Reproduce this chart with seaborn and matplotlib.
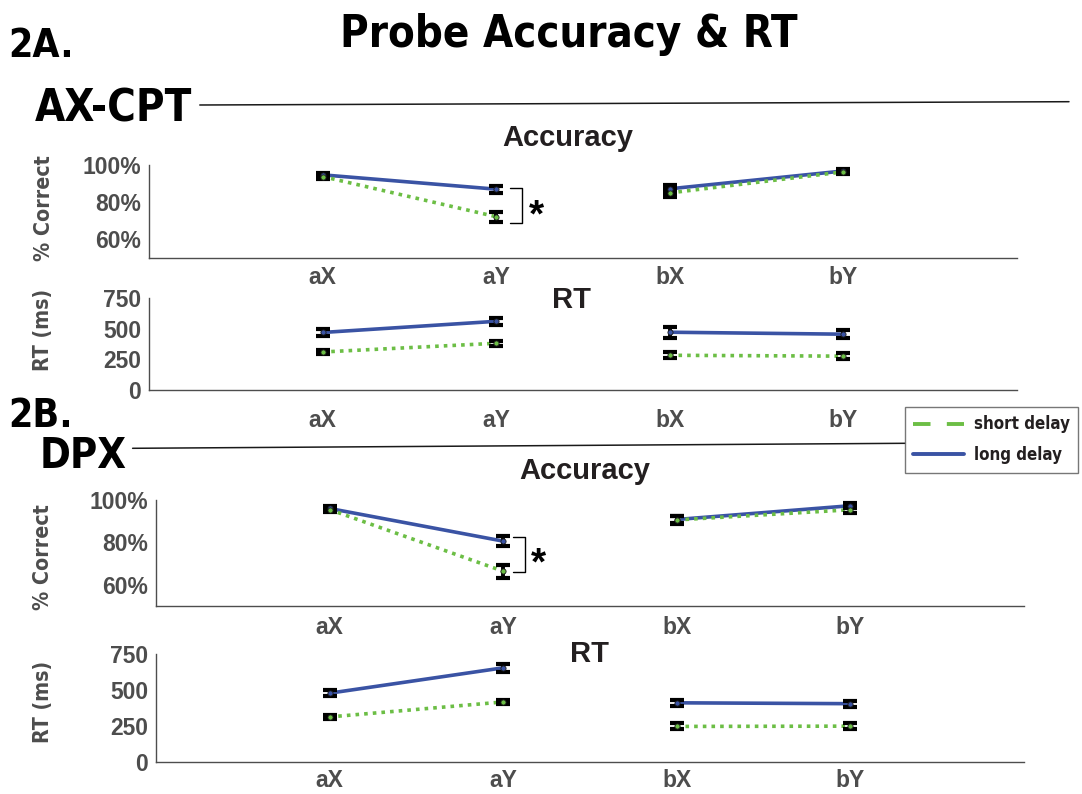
import numpy as np
import pandas as pd
import matplotlib
matplotlib.use("Agg")
import matplotlib.pyplot as plt
from matplotlib.lines import Line2D
from matplotlib import font_manager
import seaborn as sns

# ---------------------------------------------------------------- data
probes = ["aX", "aY", "bX", "bY"]
probe_pos = [1, 2, 3, 4]
segment = [0, 0, 1, 1]          # aX-aY and bX-bY are joined, the pairs are not

axcpt_acc_long = [94.7, 87.0, 87.2, 96.8]
axcpt_acc_long_err = [1.2, 1.8, 2.2, 1.0]
axcpt_acc_short = [93.8, 72.2, 85.0, 96.3]
axcpt_acc_short_err = [1.2, 2.8, 2.3, 1.0]

axcpt_rt_long = [469, 560, 471, 455]
axcpt_rt_long_err = [30, 31, 46, 35]
axcpt_rt_short = [310, 381, 283, 276]
axcpt_rt_short_err = [18, 20, 26, 24]

dpx_acc_long = [96.0, 80.6, 90.8, 97.3]
dpx_acc_long_err = [1.2, 2.2, 1.8, 1.2]
dpx_acc_short = [95.5, 66.4, 90.6, 95.4]
dpx_acc_short_err = [1.2, 3.0, 1.8, 1.3]

dpx_rt_long = [478, 654, 411, 405]
dpx_rt_long_err = [21, 30, 23, 22]
dpx_rt_short = [313, 417, 247, 249]
dpx_rt_short_err = [13, 13, 21, 20]

acc_ticks = [60, 70, 80, 90, 100]
acc_ticklabels = ["60%", "", "80%", "", "100%"]
rt_ticks = [0, 250, 500, 750]
rt_ticklabels = ["0", "250", "500", "750"]

delays = ["short delay", "long delay"]

# ---------------------------------------------------------------- style
sns.set_style("white")
plt.rcParams["font.family"] = ["Liberation Sans", "DejaVu Sans"]
plt.rcParams["font.weight"] = "bold"

W, H = 1082, 794
fig = plt.figure(figsize=(W / 100, H / 100), dpi=100)


def fx(x):
    return x / W


def fy(y):
    return 1 - y / H


# narrow bold face for headings
_fonts = {(f.name, f.stretch) for f in font_manager.fontManager.ttflist}
if any(n == "Liberation Sans Narrow" for n, _ in _fonts):
    HEAD = dict(family="Liberation Sans Narrow", weight="bold")
    hs = 1.0
elif ("DejaVu Sans", "condensed") in _fonts:
    HEAD = dict(family="DejaVu Sans", stretch="condensed", weight="bold")
    hs = 0.85
else:
    HEAD = dict(family="Liberation Sans", weight="bold")
    hs = 0.82


def head(size):
    return font_manager.FontProperties(size=size * hs, **HEAD)


BLUE = "#3A53A4"
GREEN = "#6CBE45"
GRAY = "#4D4D4D"
INK = "#231F20"
COLORS = {"short delay": GREEN, "long delay": BLUE}
LINESTYLE = {"short delay": (0, (1, 1.4)), "long delay": "-"}

# panel geometry in pixels: left, top, right, bottom
panels = [
    dict(box=(149, 165, 1017, 258), kind="acc",
         long=axcpt_acc_long, long_err=axcpt_acc_long_err,
         short=axcpt_acc_short, short_err=axcpt_acc_short_err,
         title="Accuracy", title_xy=(568, 146), ylabel="% Correct", ylabel_xy=(44, 208),
         xpad=6.0, bracket=(2.08, 2.147, 87.5, 69.0), star=(536, 209)),
    dict(box=(149, 298, 1017, 390), kind="rt",
         long=axcpt_rt_long, long_err=axcpt_rt_long_err,
         short=axcpt_rt_short, short_err=axcpt_rt_short_err,
         title="RT", title_xy=(572, 308), ylabel="RT (ms)", ylabel_xy=(43, 330),
         xpad=14.0, bracket=None, star=None),
    dict(box=(156, 500, 1024, 606), kind="acc",
         long=dpx_acc_long, long_err=dpx_acc_long_err,
         short=dpx_acc_short, short_err=dpx_acc_short_err,
         title="Accuracy", title_xy=(585, 479), ylabel="% Correct", ylabel_xy=(43, 557),
         xpad=7.5, bracket=(2.058, 2.127, 82.5, 66.2), star=(538, 557)),
    dict(box=(156, 654, 1024, 762), kind="rt",
         long=dpx_rt_long, long_err=dpx_rt_long_err,
         short=dpx_rt_short, short_err=dpx_rt_short_err,
         title="RT", title_xy=(589, 662), ylabel="RT (ms)", ylabel_xy=(43, 702),
         xpad=5.0, bracket=None, star=None),
]

for p in panels:
    l, t, r, b = p["box"]
    ax = fig.add_axes([fx(l), fy(b), (r - l) / W, (b - t) / H])

    df = pd.DataFrame({
        "probe": probes * 2,
        "pos": probe_pos * 2,
        "seg": segment * 2,
        "value": list(p["short"]) + list(p["long"]),
        "err": list(p["short_err"]) + list(p["long_err"]),
        "delay": ["short delay"] * 4 + ["long delay"] * 4,
    })

    # connecting lines: long delay underneath, short delay on top
    for d in ["long delay", "short delay"]:
        sub = df[df["delay"] == d]
        sns.lineplot(data=sub, x="pos", y="value", units="seg", estimator=None,
                     sort=False, color=COLORS[d], linewidth=2.6,
                     linestyle=LINESTYLE[d], legend=False, ax=ax, zorder=2)

    # error bars
    for d in ["long delay", "short delay"]:
        sub = df[df["delay"] == d]
        ax.errorbar(sub["pos"], sub["value"], yerr=sub["err"], fmt="none",
                    ecolor="black", elinewidth=2.8, capsize=5, capthick=3.0,
                    zorder=3)

    # condition means
    for d in ["long delay", "short delay"]:
        sub = df[df["delay"] == d]
        sns.scatterplot(data=sub, x="pos", y="value", color=COLORS[d], s=14,
                        edgecolor="#1A1A1A", linewidth=0.6, legend=False,
                        ax=ax, zorder=4)

    ax.set_xlim(0, 5)
    if p["kind"] == "acc":
        ax.set_ylim(50, 100)
        ax.set_yticks(acc_ticks)
        ax.set_yticklabels(acc_ticklabels)
    else:
        ax.set_ylim(0, 750)
        ax.set_yticks(rt_ticks)
        ax.set_yticklabels(rt_ticklabels)
    ax.set_xticks(probe_pos)
    ax.set_xticklabels(probes)
    ax.set_xlabel("")
    ax.set_ylabel("")

    sns.despine(ax=ax)
    for s in ["left", "bottom"]:
        ax.spines[s].set_color(GRAY)
        ax.spines[s].set_linewidth(1.0)
    ax.tick_params(axis="y", direction="in", length=6.5, width=1.0, color=GRAY,
                   pad=5.5, labelsize=16.5, labelcolor=GRAY)
    ax.tick_params(axis="x", direction="in", length=5, width=1.0, color=GRAY,
                   pad=p["xpad"], labelsize=16.5, labelcolor=GRAY)
    for lbl in ax.get_xticklabels() + ax.get_yticklabels():
        lbl.set_fontweight("bold")
    ax.patch.set_alpha(0)

    # significance bracket
    if p["bracket"] is not None:
        x0, x1, ytop, ybot = p["bracket"]
        ax.plot([x0, x1, x1, x0], [ytop, ytop, ybot, ybot], color="black",
                linewidth=1.0, clip_on=False, zorder=5)
        sx, sy = p["star"]
        fig.text(fx(sx), fy(sy + 17), "*", ha="center", va="baseline",
                 fontsize=28, color="black", fontweight="bold")

    tx, ty = p["title_xy"]
    fig.text(fx(tx), fy(ty), p["title"], ha="center", va="baseline",
             fontsize=21, fontweight="bold", color=INK)
    lx, ly = p["ylabel_xy"]
    fig.text(fx(lx), fy(ly), p["ylabel"], ha="center", va="center",
             rotation=90, color=GRAY, fontproperties=head(18))

# ---------------------------------------------------------------- headings
fig.text(fx(569), fy(46.7), "Probe Accuracy & RT", ha="center", va="baseline",
         color="black", fontproperties=head(36.9))
fig.text(fx(8.6), fy(57), "2A.", ha="left", va="baseline",
         color="black", fontproperties=head(33))
t_ax = fig.text(fx(34.4), fy(121.7), "AX-CPT", ha="left", va="baseline",
                color="black", fontproperties=head(36.9))
fig.text(fx(8.6), fy(427), "2B.", ha="left", va="baseline",
         color="black", fontproperties=head(33))
t_dpx = fig.text(fx(39.6), fy(468), "DPX", ha="left", va="baseline",
                 color="black", fontproperties=head(35.2))

# section rules start just right of their headings
renderer = fig.canvas.get_renderer()
ax_end = t_ax.get_window_extent(renderer).x1 + 8
dpx_end = t_dpx.get_window_extent(renderer).x1 + 6
fig.add_artist(Line2D([fx(ax_end), fx(1069)], [fy(105), fy(101.7)],
                      transform=fig.transFigure, color="#1A1A1A", linewidth=1.1))
fig.add_artist(Line2D([fx(dpx_end), fx(905)], [fy(448.3), fy(443.3)],
                      transform=fig.transFigure, color="#1A1A1A", linewidth=1.1))

# ---------------------------------------------------------------- legend
handles = [
    Line2D([], [], color=GREEN, linewidth=2.8, dashes=(4.5, 4.2)),
    Line2D([], [], color=BLUE, linewidth=2.8),
]
leg_prop = font_manager.FontProperties(size=15.6 if hs == 1.0 else 12.2, **HEAD)
leg = fig.legend(handles, delays, loc="upper left",
                 bbox_to_anchor=(fx(905), fy(407)), bbox_transform=fig.transFigure,
                 borderaxespad=0, frameon=True, fancybox=False,
                 prop=leg_prop,
                 handlelength=3.0, handletextpad=0.55, borderpad=0.5,
                 labelspacing=0.75)
leg.get_frame().set_edgecolor("#555555")
leg.get_frame().set_linewidth(1.0)
leg.get_frame().set_facecolor("white")
for txt in leg.get_texts():
    txt.set_color(INK)
leg.set_zorder(10)

fig.savefig("out.png", dpi=100)
